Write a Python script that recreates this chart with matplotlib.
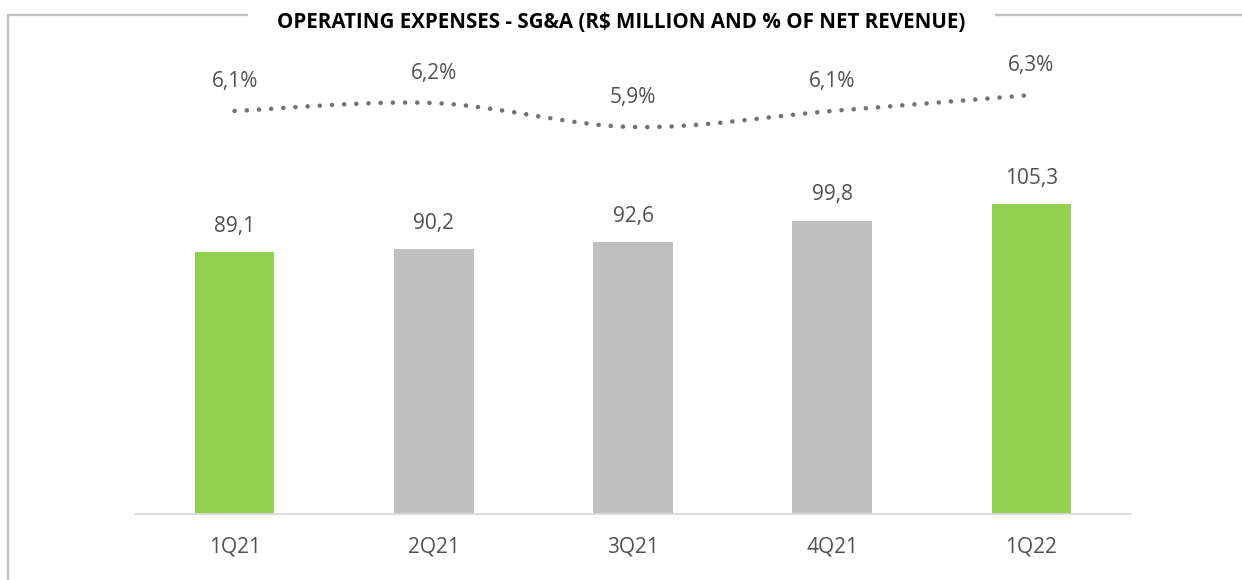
import numpy as np
import matplotlib
matplotlib.use("Agg")
import matplotlib.pyplot as plt
from matplotlib.path import Path
from matplotlib.patches import PathPatch
from matplotlib.lines import Line2D

# quarterly SG&A figures
quarters = ["1Q21", "2Q21", "3Q21", "4Q21", "1Q22"]
sga = [89.1, 90.2, 92.6, 99.8, 105.3]             # R$ million
sga_pct = [6.1, 6.2, 5.9, 6.1, 6.3]               # % of net revenue
highlight = [True, False, False, False, True]

GREEN = "#92D050"
GREY_BAR = "#BFBFBF"
DOT = "#767171"
TXT = "#505050"

plt.rcParams["font.family"] = ["Open Sans", "DejaVu Sans"]

W, H = 1242, 580
fig = plt.figure(figsize=(W / 100, H / 100), dpi=100)
ax = fig.add_axes([135 / W, 66 / H, 996 / W, 484 / H])

x = np.arange(len(quarters))
colors = [GREEN if h else GREY_BAR for h in highlight]
bars = ax.bar(x, sga, width=0.4, color=colors, zorder=2)
ax.set_xlim(-0.5, len(quarters) - 0.5)
ax.set_ylim(0, 164.6)

for xi, v in zip(x, sga):
    ax.annotate(f"{v:.1f}".replace(".", ","), (xi, v), xytext=(0, 18.5),
                textcoords="offset points", ha="center", va="center",
                fontsize=15, color=TXT)

ax.set_xticks(x)
ax.set_xticklabels(quarters, fontsize=15, color=TXT)
ax.tick_params(axis="x", length=0, pad=16)
ax.set_yticks([])
for side in ["left", "right", "top"]:
    ax.spines[side].set_visible(False)
ax.spines["bottom"].set_color("#D9D9D9")
ax.spines["bottom"].set_linewidth(1.3)

# percentage line on a secondary axis, smoothed with cubic Bezier segments
ax2 = ax.twinx()
ax2.set_ylim(1.0625, 7.1125)
ax2.set_axis_off()

pts = list(zip(x.astype(float), sga_pct))
verts = [pts[0]]
codes = [Path.MOVETO]
for i in range(len(pts) - 1):
    p0 = pts[max(i - 1, 0)]
    p1 = pts[i]
    p2 = pts[i + 1]
    p3 = pts[min(i + 2, len(pts) - 1)]
    c1 = (p1[0] + (p2[0] - p0[0]) / 6, p1[1] + (p2[1] - p0[1]) / 6)
    c2 = (p2[0] - (p3[0] - p1[0]) / 6, p2[1] - (p3[1] - p1[1]) / 6)
    verts += [c1, c2, p2]
    codes += [Path.CURVE4] * 3
curve = PathPatch(Path(verts, codes), fill=False, edgecolor=DOT, linewidth=3.3,
                  linestyle=(0, (0.01, 2.65)), capstyle="round", zorder=3)
ax2.add_patch(curve)

for xi, v in zip(x, sga_pct):
    ax2.annotate(f"{v:.1f}%".replace(".", ","), (xi, v), xytext=(0, 21),
                 textcoords="offset points", ha="center", va="center",
                 fontsize=15, color=TXT)

# title breaking the frame line
fig.text(621 / W, 1 - 22 / H,
         "OPERATING EXPENSES - SG&A (R$ MILLION AND % OF NET REVENUE)",
         ha="center", va="center", fontsize=14.8, fontweight="bold", color="black")

frame = dict(color="#BFBFBF", linewidth=1.7, solid_capstyle="butt")
y_top = 1 - 14.5 / H
fig.add_artist(Line2D([7.5 / W, 7.5 / W], [0, y_top], **frame))
fig.add_artist(Line2D([6.5 / W, 248 / W], [y_top, y_top], **frame))
fig.add_artist(Line2D([995 / W, 1], [y_top, y_top], **frame))

fig.savefig("out.png", dpi=100)
